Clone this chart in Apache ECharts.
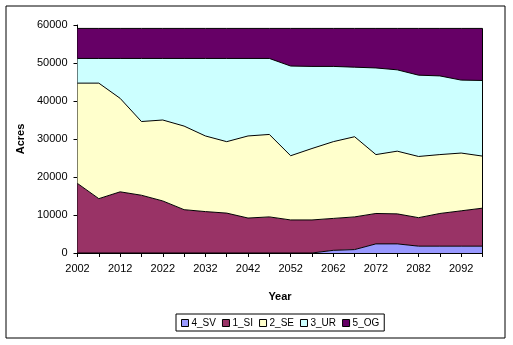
<!DOCTYPE html>
<html><head><meta charset="utf-8">
<script src="https://cdn.jsdelivr.net/npm/echarts@6/dist/echarts.min.js"></script>
<style>html,body{margin:0;padding:0;background:#fff}#c{width:513px;height:345px}</style>
</head><body><div id="c"></div>
<script>
const years = ['2002','2007','2012','2017','2022','2027','2032','2037','2042','2047','2052','2057','2062','2067','2072','2077','2082','2087','2092','2097'];
const sv = [0,0,0,0,0,0,0,0,0,0,0,0,700,900,2400,2400,1800,1800,1800,1800];
const si = [18300,14300,16100,15200,13700,11400,10900,10500,9200,9500,8700,8700,8400,8600,8000,7900,7500,8600,9300,10000];
const se = [26400,30400,24600,19400,21300,22000,19900,18800,21600,21700,16900,18800,20200,21100,15500,16500,16100,15500,15200,13700];
const ur = [6500,6500,10500,16600,16200,17800,20400,21900,20400,20000,23600,21600,19800,18300,22800,21400,21400,20700,19200,19900];
const og = [7900,7900,7900,7900,7900,7900,7900,7900,7900,7900,9900,10000,10000,10200,10400,10900,12300,12500,13600,13700];
const names = ['4_SV','1_SI','2_SE','3_UR','5_OG'];
const colors = ['#9999FF','#993366','#FFFFCC','#CCFFFF','#660066'];
const values = [sv, si, se, ur, og];
const lastYear = years[years.length-1];
const total = sv[sv.length-1]+si[si.length-1]+se[se.length-1]+ur[ur.length-1]+og[og.length-1];

const font = '"Liberation Sans", Arial, sans-serif';
const chart = echarts.init(document.getElementById('c'), null, {renderer:'canvas'});
chart.setOption({
  animation:false,
  backgroundColor:'#fff',
  graphic:[{type:'rect', shape:{x:6,y:6,width:499,height:332}, style:{fill:'none', stroke:'#000', lineWidth:1}}],
  grid:{left:77.5, right:30.5, top:25, bottom:92, containLabel:false},
  legend:{
    left:176, top:314, padding:[4,5,3,5], borderColor:'#000', borderWidth:1,
    icon:'rect', itemWidth:7, itemHeight:7, itemGap:6,
    itemStyle:{borderColor:'#000', borderWidth:1},
    textStyle:{fontFamily:font, fontSize:10, color:'#000', padding:[0,0,0,-2]},
    data:names
  },
  xAxis:{
    type:'category', data:years, boundaryGap:false,
    name:'Year', nameLocation:'middle', nameGap:38,
    nameTextStyle:{fontFamily:font, fontSize:11, fontWeight:'bold', color:'#000'},
    axisLine:{lineStyle:{color:'#000', width:1}},
    axisTick:{show:true, interval:0, length:4, lineStyle:{color:'#000'}},
    axisLabel:{interval:1, fontFamily:font, fontSize:11, color:'#000', margin:10},
    splitLine:{show:false}
  },
  yAxis:{
    type:'value', min:0, max:60000, interval:10000,
    name:'Acres', nameLocation:'middle', nameGap:51, nameRotate:90,
    nameTextStyle:{fontFamily:font, fontSize:11, fontWeight:'bold', color:'#000'},
    axisLine:{show:true, lineStyle:{color:'#000', width:1}},
    axisTick:{show:true, length:4, lineStyle:{color:'#000'}},
    axisLabel:{fontFamily:font, fontSize:11, color:'#000', margin:10, formatter:(v)=>String(v)},
    splitLine:{show:false}
  },
  series: names.map((n,i)=>{
    const s = {
      name:n, type:'line', stack:'all', data:values[i], symbol:'none', showSymbol:false,
      lineStyle:{color:'#000', width:1},
      itemStyle:{color:colors[i]},
      areaStyle:{color:colors[i], opacity:1},
      z: 2
    };
    if (i === 0) {
      s.markLine = {silent:true, symbol:['none','none'], label:{show:false},
        lineStyle:{color:'#000', width:1, type:'solid'},
        data:[[{coord:[lastYear,0]},{coord:[lastYear,total]}]]};
      s.z = 3;
    }
    return s;
  })
});
</script></body></html>
